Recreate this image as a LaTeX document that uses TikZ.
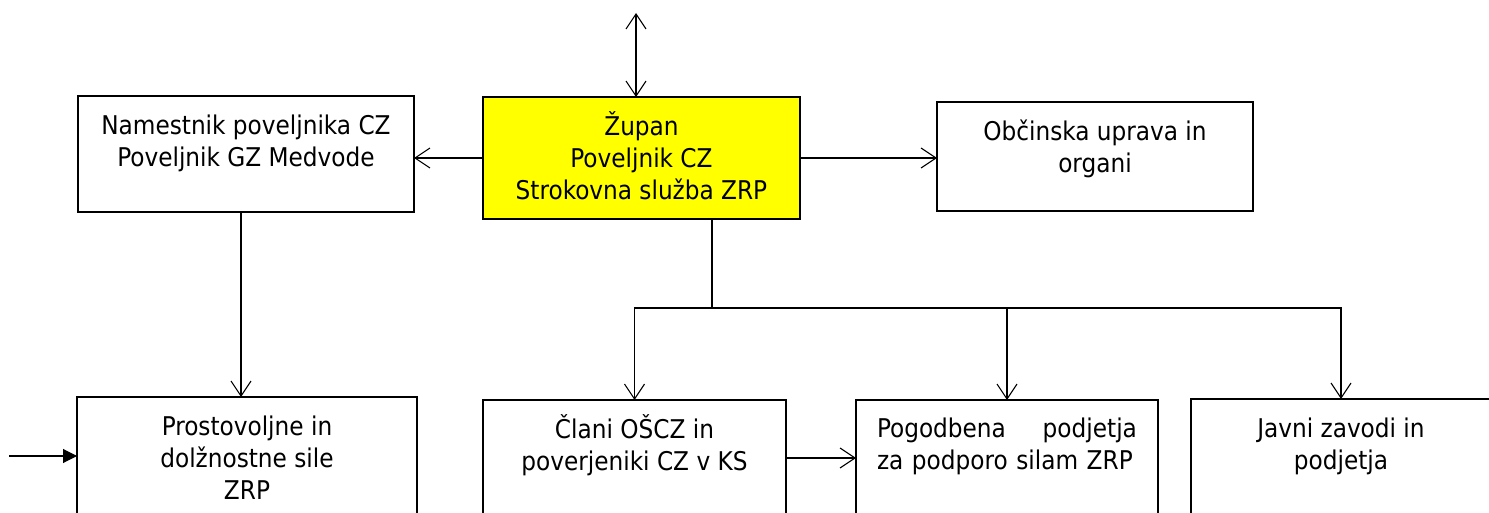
\documentclass[tikz,border=0pt]{standalone}
\usepackage{fontspec}
\setmainfont{DejaVu Sans Condensed}
\usetikzlibrary{arrows.meta,calc}
\definecolor{yel}{RGB}{255,255,0}
\newcommand\myfirst{\rule{0pt}{27pt}}
\begin{document}
\begin{tikzpicture}[x=1pt,y=-1pt,
  box/.style={draw,line width=2.4pt,inner sep=0pt,outer sep=0pt},
  txt/.style={font=\fontsize{25.8}{32}\selectfont,align=center,inner sep=0pt,anchor=north},
  conn/.style={line width=1.1pt},
  barb/.tip={Straight Barb[length=15pt,width=20pt]},
  arr/.style={conn,-barb},
]
\clip (0,0) rectangle (1489,513);
\fill[white] (0,0) rectangle (1489,513);

% boxes
\node[box,minimum width=336pt,minimum height=116pt] (nam) at (246,154) {};
\node[box,fill=yel,minimum width=317pt,minimum height=122pt] (zup) at (641.5,158) {};
\node[box,minimum width=316pt,minimum height=109pt] (obc) at (1095,156.5) {};
\node[box,minimum width=340pt,minimum height=200pt] (pro) at (247,497) {};
\node[box,minimum width=303pt,minimum height=200pt] (cla) at (634.5,500) {};
\node[box,minimum width=302pt,minimum height=200pt] (pog) at (1007,500) {};
\node[box,minimum width=300pt,minimum height=200pt] (jav) at (1341,499) {};

% texts (node top = first baseline - 27)
\node[txt] (namt) at (246,107) {\myfirst Namestnik poveljnika CZ\\Poveljnik GZ Medvode};
\node[txt] (zupt) at (641.5,108) {\myfirst Župan\\Poveljnik CZ\\Strokovna služba ZRP};
\node[txt] (obct) at (1095,113) {\myfirst Občinska uprava in\\organi};
\node[txt] (prot) at (247,408) {\myfirst Prostovoljne in\\dolžnostne sile\\ZRP};
\node[txt] (clat) at (634.5,411) {\myfirst Člani OŠCZ in\\poverjeniki CZ v KS};
\node[txt,align=left,text width=260pt] (pogt) at (1007,410) {\myfirst Pogodbena\hfill podjetja\\za podporo silam ZRP};
\node[txt] (javt) at (1341,410) {\myfirst Javni zavodi in\\podjetja};

% connectors
\coordinate (topend) at (636,13);
\draw[conn,barb-barb] (topend) -- (topend |- zup.north);
\draw[arr] (zup.west) -- (zup.west -| nam.east);
\draw[arr] (zup.east) -- (zup.east -| obc.west);
\draw[arr] ([xshift=-5pt]nam.south) -- ([xshift=-5pt]nam.south |- pro.north);
\draw[conn] ([xshift=70.5pt]zup.south) coordinate (z0) -- (z0 |- 0,308) coordinate (bus);
\draw[arr] (bus) -| (cla.north);
\draw[arr] (bus) -| (pog.north);
\draw[arr] (bus) -| (jav.north);
\draw[arr] ($(cla.north east)+(0,58)$) -- ($(pog.north west)+(0,58)$);
\coordinate (lin) at (9,456);
\draw[conn,-{Triangle[length=14pt,width=14pt]}] (lin) -- (lin -| pro.west);
\end{tikzpicture}
\end{document}
